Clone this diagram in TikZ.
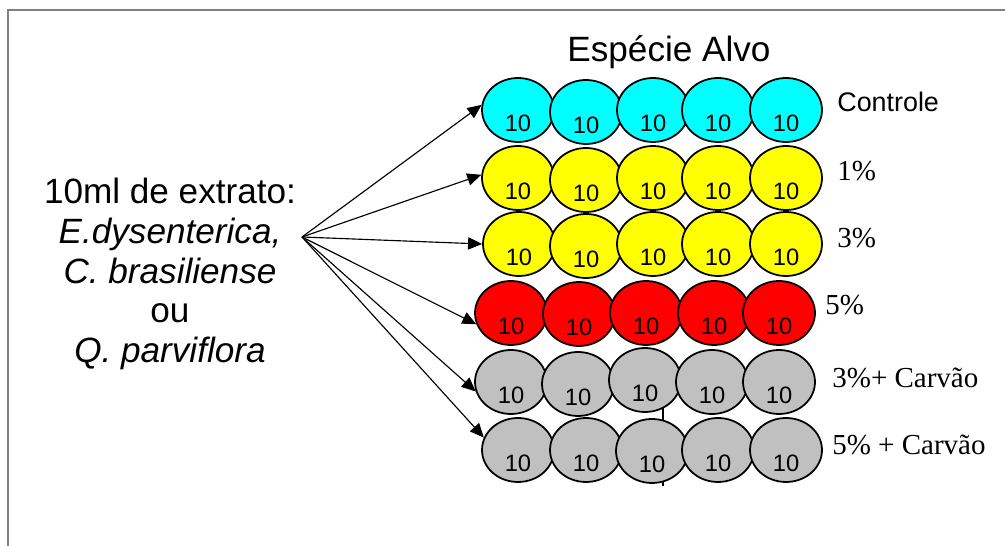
\documentclass[tikz,border=0pt]{standalone}
\usepackage{fontspec}
\setmainfont{Liberation Sans}
\newfontfamily\timesfont{Liberation Serif}
\usepackage{tikz}
\usetikzlibrary{arrows.meta,shapes.geometric}
\definecolor{aqua}{RGB}{0,255,255}
\definecolor{lemon}{RGB}{255,255,0}
\definecolor{scarlet}{RGB}{255,0,0}
\definecolor{silver}{RGB}{192,192,192}
\definecolor{framegray}{RGB}{128,128,128}

\begin{document}
\begin{tikzpicture}[x=0.02cm,y=-0.02cm,
  egg/.style={draw,ellipse,line width=1pt,inner sep=0pt,minimum width=1.44cm,minimum height=1.28cm,
    label={[yshift=-0.27cm,inner sep=0pt,font=\fontsize{13.5}{15}\selectfont]center:10}},
  ctrl/.style={egg,fill=aqua},
  low/.style={egg,fill=lemon},
  high/.style={egg,fill=scarlet},
  coal/.style={egg,fill=silver},
  treat/.style={font=\timesfont\fontsize{16.5}{19}\selectfont,anchor=west,inner sep=0pt},
  feed/.style={-{Triangle[length=8pt,width=7pt]},line width=0.65pt}]
\useasboundingbox (0,0) rectangle (1005,546);
\draw[framegray,line width=1.1pt] (8,546) -- (8,10) -- (1005,10);

% stray line behind the charcoal rows
\coordinate (tickTop) at (663,405);
\coordinate (tickBot) at (663,486);
\draw[line width=0.6pt] (tickTop) -- (tickBot);

\begin{scope}
\node[ctrl] (r1c1) at (518,110) {};
\node[ctrl] (r1c2) at (586,112) {};
\node[ctrl] (r1c3) at (653,110) {};
\node[ctrl] (r1c4) at (718,110) {};
\node[ctrl] (r1c5) at (786,110) {};
\node[low] (r2c1) at (518,178) {};
\node[low] (r2c2) at (586,180) {};
\node[low] (r2c3) at (653,178) {};
\node[low] (r2c4) at (718,178) {};
\node[low] (r2c5) at (786,178) {};
\node[low] (r3c1) at (519,244) {};
\node[low] (r3c2) at (586,246) {};
\node[low] (r3c3) at (653,244) {};
\node[low] (r3c4) at (718,244) {};
\node[low] (r3c5) at (786,244) {};
\node[high] (r4c1) at (511,313) {};
\node[high] (r4c2) at (579,314) {};
\node[high] (r4c3) at (646,313) {};
\node[high] (r4c4) at (714,313) {};
\node[high] (r4c5) at (779,313) {};
\node[coal] (r5c1) at (511,382) {};
\node[coal] (r5c2) at (578,384) {};
\node[coal] (r5c3) at (645,380) {};
\node[coal] (r5c4) at (712,382) {};
\node[coal] (r5c5) at (779,382) {};
\node[coal] (r6c1) at (518,450) {};
\node[coal] (r6c2) at (586,450) {};
\node[coal] (r6c3) at (652,451) {};
\node[coal] (r6c4) at (718,450) {};
\node[coal] (r6c5) at (786,450) {};
\end{scope}

\node[font=\fontsize{20}{24}\selectfont] (title) at (669,52) {Espécie Alvo};
\node[font=\fontsize{15.3}{18}\selectfont,anchor=west,inner sep=0pt] (lctrl) at (837,102) {Controle};
\node[treat] (l1) at (837,171) {1\%};
\node[treat] (l3) at (837,238) {3\%};
\node[treat] (l5) at (825,305) {5\%};
\node[treat] (l3c) at (832,378) {3\%+ Carvão};
\node[treat] (l5c) at (832,445) {5\% + Carvão};

\node[font=\fontsize{20}{22.7}\selectfont,align=center] (extract) at (170,274)
  {10ml de extrato:\\\textit{E.dysenterica,}\\\textit{C. brasiliense}\\ou\\\textit{Q. parviflora}};
\coordinate (src) at (302,237);

\draw[feed] (src) -- (r1c1.172);
\draw[feed] (src) -- (r2c1.175);
\draw[feed] (src) -- (r3c1.west);
\draw[feed] (src) -- (r4c1.198);
\draw[feed] (src) -- (r5c1.195);
\draw[feed] (src) -- (r6c1.160);
\end{tikzpicture}
\end{document}
